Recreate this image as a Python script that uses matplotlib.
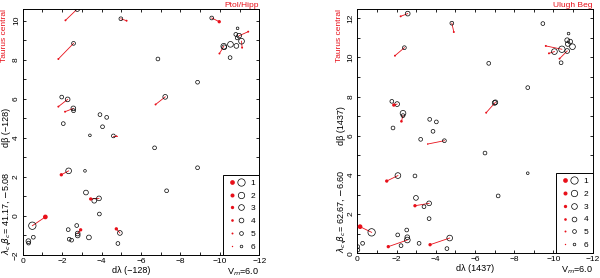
import matplotlib
matplotlib.use('Agg')
import matplotlib.pyplot as plt
from matplotlib.lines import Line2D
from matplotlib.legend_handler import HandlerTuple
from matplotlib.ticker import MultipleLocator

plt.rcParams['font.family'] = ['Liberation Sans', 'DejaVu Sans']

RED = '#e8101a'

# magnitude -> marker diameter (pt)
open_size = {1: 5.3, 2: 4.6, 3: 4.1, 4: 3.4, 5: 2.7, 6: 1.9}
red_size = {1: 3.4, 2: 2.9, 3: 2.4, 4: 1.9, 5: 1.4, 6: 1.0}

# ---- Ptol/Hipp panel ----
# linked pairs: open star (catalogue) and red point (modern), with magnitudes
ptol_open_x = [-2.77, -4.98, -2.58, -9.59, -10.98, -11.10, -10.20, -7.23, -2.28, -2.57,
               -4.60, -2.33, -3.87, -0.49, -2.79, -4.93]
ptol_open_y = [10.60, 10.10, 8.84, 10.14, 9.23, 8.95, 8.69, 6.10, 5.97, 5.51,
               4.10, 2.31, 0.90, -0.50, -0.90, -0.87]
ptol_open_mag = [4, 5, 5, 5, 4, 3, 3, 4, 4, 4, 5, 3, 4, 1, 4, 4]
ptol_red_x = [-2.17, -5.27, -1.81, -9.97, -11.44, -11.13, -9.98, -6.74, -1.81, -2.15,
              -4.76, -1.96, -3.45, -1.15, -2.94, -4.75]
ptol_red_y = [10.02, 10.00, 8.04, 9.95, 9.44, 8.62, 8.32, 5.71, 5.60, 5.34,
              4.10, 2.11, 0.87, -0.05, -0.71, -0.66]
ptol_red_mag = [5, 5, 5, 3, 5, 5, 5, 5, 5, 5, 6, 3, 3, 1, 3, 3]
# unlinked open stars
ptol_lone_x = [-10.90, -10.81, -10.88, -10.54, -10.84, -10.52, -10.22, -6.86, -8.87, -1.98,
               -2.58, -2.06, -3.92, -4.26, -4.05, -3.41, -6.69, -3.16, -8.87, -10.79,
               -7.30, -3.21, -3.63, -3.89, -2.31, -2.74, -2.79, -2.36, -2.48, -3.36,
               -0.54, -0.29, -0.30, -4.83]
ptol_lone_y = [9.61, 9.30, 9.12, 8.79, 8.71, 8.11, 8.64, 8.04, 6.85, 6.09,
               5.39, 4.73, 5.19, 5.05, 4.57, 4.13, 3.49, 2.31, 2.47, 1.96,
               1.29, 1.20, 0.78, 0.10, -0.70, -0.49, -1.00, -1.19, -1.24, -1.10,
               -1.09, -1.29, -1.39, -1.41]
ptol_lone_mag = [6, 5, 5, 3, 4, 5, 4, 5, 5, 5,
                 5, 5, 5, 5, 5, 6, 5, 6, 5, 5,
                 5, 4, 4, 5, 5, 5, 4, 5, 5, 4,
                 5, 4, 5, 5]

# ---- Ulugh Beg panel ----
ulugh_open_x = [-2.57, -4.82, -2.40, -10.43, -10.05, -10.70, -7.04, -4.44, -2.03, -2.33,
                -2.07, -3.66, -0.73, -2.55, -4.71]
ulugh_open_y = [12.24, 11.75, 10.50, 10.42, 10.30, 10.33, 7.71, 5.75, 7.62, 7.03,
                3.97, 2.55, 1.07, 0.68, 0.78]
ulugh_open_mag = [4, 5, 5, 2, 3, 4, 4, 5, 4, 5, 3, 4, 1, 3, 3]
ulugh_red_x = [-2.21, -4.92, -1.92, -9.61, -9.77, -10.31, -6.57, -3.59, -1.86, -2.25,
               -1.50, -2.94, -0.14, -1.58, -3.71]
ulugh_red_y = [12.10, 11.30, 10.09, 10.59, 10.21, 9.94, 7.18, 5.58, 7.57, 6.74,
               3.69, 2.43, 1.36, 0.34, 0.44]
ulugh_red_mag = [5, 5, 5, 5, 5, 5, 5, 6, 3, 4, 3, 3, 1, 3, 3]
ulugh_lone_x = [-9.46, -10.77, -10.70, -10.85, -10.73, -10.97, -10.39, -6.70, -8.69, -7.00,
                -1.76, -2.33, -1.82, -3.69, -4.03, -3.86, -3.23, -6.51, -8.69, -10.61,
                -7.18, -2.94, -2.99, -3.40, -3.66, -2.52, -2.06, -2.55, -2.23, -3.15,
                -4.57, -0.27, -0.02, -0.03]
ulugh_lone_y = [11.73, 11.22, 10.88, 10.81, 10.69, 10.55, 9.73, 9.70, 8.46, 7.68,
                7.76, 7.15, 6.40, 6.84, 6.71, 6.23, 5.82, 5.12, 4.09, 3.57,
                2.93, 3.95, 2.83, 2.38, 1.77, 1.19, 0.94, 0.82, 0.39, 0.51,
                0.24, 0.51, 0.34, 0.17]
ulugh_lone_mag = [5, 6, 4, 4, 4, 3, 5, 5, 5, 4,
                  5, 3, 5, 5, 5, 5, 5, 5, 6, 6,
                  5, 5, 4, 5, 5, 5, 5, 4, 5, 5,
                  5, 5, 5, 5]

legend_mags = [1, 2, 3, 4, 5, 6]


def draw_panel(ax, ox, oy, omag, rx, ry, rmag, lx, ly, lmag, ylim,
               name, xlab, ylab, center, xlab_x):
    for x0, y0, x1, y1 in zip(ox, oy, rx, ry):
        ax.plot([x0, x1], [y0, y1], color=RED, lw=0.6, zorder=1)
    ax.scatter(ox + lx, oy + ly, s=[open_size[m] ** 2 for m in omag + lmag],
               facecolors='none', edgecolors='black', linewidths=0.5, zorder=2)
    ax.scatter(rx, ry, s=[red_size[m] ** 2 for m in rmag],
               color=RED, linewidths=0, zorder=3)

    ax.set_xlim(0, -12)
    ax.set_ylim(*ylim)
    ax.xaxis.set_major_locator(MultipleLocator(2))
    ax.xaxis.set_minor_locator(MultipleLocator(1))
    ax.yaxis.set_major_locator(MultipleLocator(2))
    ax.yaxis.set_minor_locator(MultipleLocator(1))
    ax.tick_params(which='both', direction='in', top=True, right=True,
                   length=2, width=0.6, labelsize=6, pad=2)
    for lab in ax.get_yticklabels():
        lab.set_rotation(90)
        lab.set_va('center')
    for sp in ax.spines.values():
        sp.set_linewidth(0.7)

    ax.text(1.0, 1.0, name, transform=ax.transAxes, ha='right', va='bottom',
            color=RED, fontsize=6)
    ax.text(-0.075, 1.0, 'Taurus central', transform=ax.transAxes, rotation=90,
            ha='center', va='top', color=RED, fontsize=6)
    ax.text(-0.068, 0.52, ylab, transform=ax.transAxes, rotation=90,
            ha='center', va='center', fontsize=6.5)
    ax.text(-0.068, 0.0, center, transform=ax.transAxes, rotation=90,
            ha='center', va='bottom', fontsize=6.5)
    ax.text(xlab_x, -0.045, xlab, transform=ax.transAxes, ha='center', va='top',
            fontsize=6.5)
    ax.text(1.0, -0.045, r'V$_m$=6.0', transform=ax.transAxes, ha='right',
            va='top', fontsize=6.5)

    handles = []
    for m in legend_mags:
        r = Line2D([], [], ls='none', marker='o', markersize=red_size[m],
                   mfc=RED, mec=RED, mew=0)
        o = Line2D([], [], ls='none', marker='o', markersize=open_size[m],
                   mfc='none', mec='black', mew=0.5)
        handles.append((r, o))
    leg = ax.legend(handles, [str(m) for m in legend_mags], loc='lower right',
                    handler_map={tuple: HandlerTuple(ndivide=None, pad=0)},
                    fontsize=6, handlelength=2.2, handletextpad=0.6,
                    labelspacing=0.6, borderpad=0.5, borderaxespad=0,
                    fancybox=False, framealpha=1, edgecolor='black')
    leg.get_frame().set_linewidth(0.7)


fig = plt.figure(figsize=(6, 2.78), dpi=100)
ax1 = fig.add_axes([0.0378, 0.0827, 0.3943, 0.8849])
ax2 = fig.add_axes([0.5955, 0.0888, 0.3923, 0.8806])

draw_panel(ax1, ptol_open_x, ptol_open_y, ptol_open_mag,
           ptol_red_x, ptol_red_y, ptol_red_mag,
           ptol_lone_x, ptol_lone_y, ptol_lone_mag, (-2, 10.6),
           'Ptol/Hipp', 'd\u03bb (\u2212128)', 'd\u03b2 (\u2212128)',
           r'$\lambda_c$,$\beta_c$= 41.17, $-$5.08', 0.46)
draw_panel(ax2, ulugh_open_x, ulugh_open_y, ulugh_open_mag,
           ulugh_red_x, ulugh_red_y, ulugh_red_mag,
           ulugh_lone_x, ulugh_lone_y, ulugh_lone_mag, (0, 12.5),
           'Ulugh Beg', 'd\u03bb (1437)', 'd\u03b2 (1437)',
           r'$\lambda_c$,$\beta_c$= 62.67, $-$6.60', 0.5)

fig.savefig('out.png', dpi=100)
